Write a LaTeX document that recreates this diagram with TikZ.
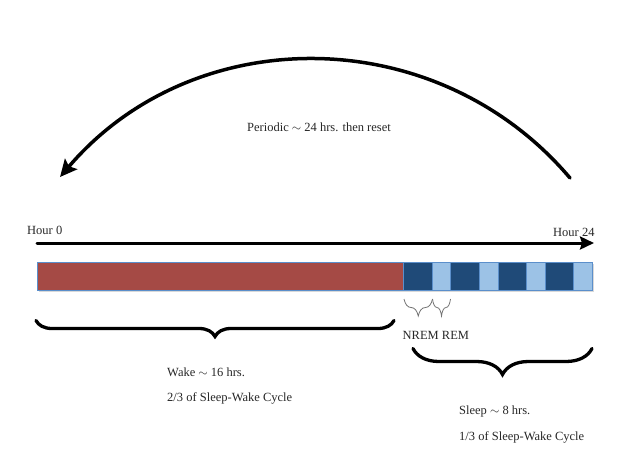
\documentclass[tikz,border=0pt]{standalone}
\usepackage{fontspec}
\setmainfont{Liberation Serif}
\usetikzlibrary{arrows.meta,decorations.pathreplacing,shadows}
\definecolor{wakered}{HTML}{A54A45}
\definecolor{nremblue}{HTML}{1F4A78}
\definecolor{remblue}{HTML}{9CC2E6}
\definecolor{edgeblue}{HTML}{5B8FCB}
\begin{document}
\begin{tikzpicture}[x=1pt,y=1pt,
  lbl/.style={inner sep=0pt, font=\fontsize{12.5}{15}\selectfont, text=black!85},
  barblock/.style={rectangle, draw=edgeblue, line width=0.9pt, inner sep=0pt, minimum height=28pt, anchor=north west,
     drop shadow={opacity=0.3, shadow xshift=1.5pt, shadow yshift=-2pt}},
  bigbrace/.style={decorate, line width=3.3pt, line cap=round, decoration={brace, mirror, amplitude=#1}},
  smallbrace/.style={decorate, line width=0.8pt, draw=black!55, decoration={brace, mirror, amplitude=#1}},
  thickarrow/.style={line width=#1, line cap=round}
]
\useasboundingbox (0,0) rectangle (623,-469);

% cycle arc
\coordinate (arcstart) at (570,-178);
\coordinate (arcend) at (60,-177);
\draw[thickarrow=3.5pt, -{Stealth[length=17pt,width=16pt,inset=3pt]}]
  (arcstart) .. controls (437,-21) and (194,-20) .. (arcend);
\node[lbl] (periodic) at (319,-127) {Periodic $\sim$ 24 hrs. then reset};

% time axis
\coordinate (h0) at (37,-243);
\coordinate (h24) at (594,-243);
\draw[thickarrow=3pt, -{Stealth[length=14pt,width=13pt,inset=2pt]}] (h0) -- (h24);
\node[lbl, anchor=west] (hour0) at (27,-230) {Hour 0};
\node[lbl, anchor=west] (hour24) at (553,-232) {Hour 24};

% bar
\node[barblock, fill=wakered, minimum width=366pt] (wakebar) at (37,-262) {};
\foreach \i in {0,...,3}{
  \node[barblock, fill=nremblue, minimum width=28.5pt] (nrem\i) at ({403+47.25*\i},-262) {};
  \node[barblock, fill=remblue, minimum width=18.75pt] (rem\i) at ({431.5+47.25*\i},-262) {};
}

% small braces
\coordinate (nb1) at (404,-299);
\coordinate (nb2) at (432.5,-299);
\coordinate (nb3) at (450.5,-299);
\draw[smallbrace=17pt] (nb1) -- (nb2);
\draw[smallbrace=17pt] (nb2) -- (nb3);
\node[lbl, anchor=west] (nremrem) at (402.5,-335) {NREM REM};

% wake brace
\coordinate (wb1) at (36,-320.5);
\coordinate (wb2) at (394,-320.5);
\draw[bigbrace=16pt] (wb1) -- (wb2);
\node[lbl, anchor=west] (wake1) at (167,-372) {Wake $\sim$ 16 hrs.};
\node[lbl, anchor=west] (wake2) at (167,-398) {2/3 of Sleep-Wake Cycle};

% sleep brace
\coordinate (sb1) at (413,-348.5);
\coordinate (sb2) at (592,-348.5);
\draw[bigbrace=26pt] (sb1) -- (sb2);
\node[lbl, anchor=west] (sleep1) at (459,-411) {Sleep $\sim$ 8 hrs.};
\node[lbl, anchor=west] (sleep2) at (459,-437) {1/3 of Sleep-Wake Cycle};
\end{tikzpicture}
\end{document}
